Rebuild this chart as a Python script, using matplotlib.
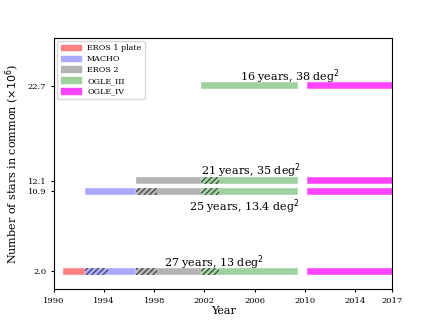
import matplotlib
matplotlib.use("Agg")
import matplotlib.pyplot as plt
from matplotlib.patches import Patch

plt.rcParams['font.family'] = ['DejaVu Serif']
plt.rcParams['hatch.linewidth'] = 0.7

# survey names, colours and observing spans (years)
surveys = ['EROS 1 plate', 'MACHO', 'EROS 2', 'OGLE_III', 'OGLE_IV']
colors = ['#ff8080', '#a9a9ff', '#b3b3b3', '#9fd09f', '#ff44ff']
start = [1990.7, 1992.5, 1996.5, 2001.7, 2010.2]
end = [1994.3, 1998.25, 2003.15, 2009.5, 2017.5]

# rows: number of stars in common (x10^6) and which surveys take part
row_y = [2.0, 10.9, 12.1, 22.7]
row_surveys = [[0, 1, 2, 3, 4], [1, 2, 3, 4], [2, 3, 4], [3, 4]]

# annotations
notes = ['27 years, 13 deg$^2$', '25 years, 13.4 deg$^2$',
         '21 years, 35 deg$^2$', '16 years, 38 deg$^2$']
note_x = [2002.8, 2005.2, 2005.7, 2008.85]
note_y = [2.95, 9.2, 13.2, 23.7]

fig, ax = plt.subplots(figsize=(4.36, 3.25), dpi=100)
fig.subplots_adjust(left=0.124, right=0.9, top=0.883, bottom=0.11)

h = 0.75
for y, members in zip(row_y, row_surveys):
    for i in members:
        ax.barh(y, end[i] - start[i], left=start[i], height=h,
                color=colors[i], edgecolor='white', linewidth=0.3)
    # hatched overlap between consecutive surveys
    for a, b in zip(members[:-1], members[1:]):
        if end[a] > start[b]:
            ax.barh(y, end[a] - start[b], left=start[b], height=h,
                    facecolor='none', edgecolor='#2a2a2a', linewidth=0, hatch='//////')

for t, x, y in zip(notes, note_x, note_y):
    ax.text(x, y, t, ha='center', va='center', fontsize=8)

ax.set_xlim(1990, 2017)
ax.set_ylim(0, 28)
ax.set_xticks([1990, 1994, 1998, 2002, 2006, 2010, 2014, 2017])
ax.set_yticks(row_y)
ax.set_yticklabels(['%.1f' % v for v in row_y])
ax.tick_params(labelsize=6, length=2)
ax.set_xlabel('Year', fontsize=8, labelpad=1)
ax.set_ylabel('Number of stars in common ($\\times10^6$)', fontsize=8)

handles = [Patch(color=c, label=s) for s, c in zip(surveys, colors)]
ax.legend(handles=handles, loc='upper left', fontsize=5.8, handlelength=2.5,
          borderaxespad=0.4, labelspacing=0.35)

fig.savefig('out.png')
